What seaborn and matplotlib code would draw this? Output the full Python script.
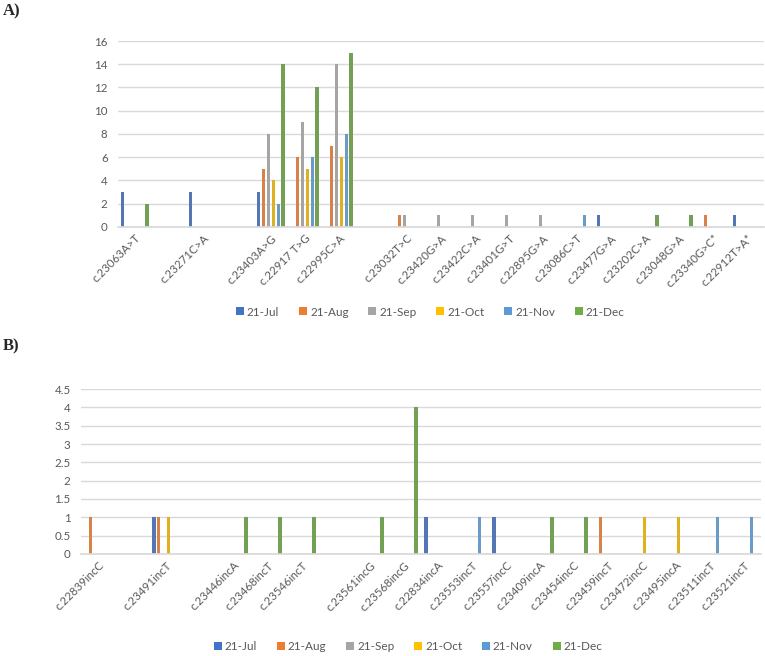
import numpy as np
import pandas as pd
import seaborn as sns
import matplotlib.pyplot as plt
from matplotlib.lines import Line2D

# months and Excel-style colours
months = ["21-Jul", "21-Aug", "21-Sep", "21-Oct", "21-Nov", "21-Dec"]
colors = ["#4472C4", "#ED7D31", "#A5A5A5", "#FFC000", "#5B9BD5", "#70AD47"]

# Panel A: substitutions
a_labels = ["c.23063A>T", "c.23271C>A", "c.23403A>G", "c.22917 T>G", "c.22995C>A",
            "c.23032T>C", "c.23420G>A", "c.23422C>A", "c.23401G>T", "c.22895G>A",
            "c.23086C>T", "c.23477G>A", "c.23202C>A", "c.23048G>A", "c.23340G>C*",
            "c.22912T>A*"]
a_jul = [3, 3, 3, 0, 0, 0, 0, 0, 0, 0, 0, 1, 0, 0, 0, 1]
a_aug = [0, 0, 5, 6, 7, 1, 0, 0, 0, 0, 0, 0, 0, 0, 1, 0]
a_sep = [0, 0, 8, 9, 14, 1, 1, 1, 1, 1, 0, 0, 0, 0, 0, 0]
a_oct = [0, 0, 4, 5, 6, 0, 0, 0, 0, 0, 0, 0, 0, 0, 0, 0]
a_nov = [0, 0, 2, 6, 8, 0, 0, 0, 0, 0, 1, 0, 0, 0, 0, 0]
a_dec = [2, 0, 14, 12, 15, 0, 0, 0, 0, 0, 0, 0, 1, 1, 0, 0]
a_blank_after = ["c.23063A>T", "c.23271C>A", "c.22995C>A"]

# Panel B: insertions
b_labels = ["c.22839incC", "c.23491incT", "c.23446incA", "c.23468incT", "c.23546incT",
            "c.23561incG", "c.23568incG", "c.22834incA", "c.23553incT", "c.23557incC",
            "c.23409incA", "c.23454incC", "c.23459incT", "c.23472incC", "c.23495incA",
            "c.23511incT", "c.23521incT"]
b_jul = [0, 1, 0, 0, 0, 0, 0, 1, 0, 1, 0, 0, 0, 0, 0, 0, 0]
b_aug = [1, 1, 0, 0, 0, 0, 0, 0, 0, 0, 0, 0, 1, 0, 0, 0, 0]
b_sep = [0, 0, 0, 0, 0, 0, 0, 0, 0, 0, 0, 0, 0, 0, 0, 0, 0]
b_oct = [0, 1, 0, 0, 0, 0, 0, 0, 0, 0, 0, 0, 0, 1, 1, 0, 0]
b_nov = [0, 0, 0, 0, 0, 0, 0, 0, 1, 0, 0, 0, 0, 0, 0, 1, 1]
b_dec = [0, 0, 1, 1, 1, 1, 4, 0, 0, 0, 1, 1, 0, 0, 0, 0, 0]
b_blank_after = ["c.22839incC", "c.23491incT", "c.23546incT"]


def long_table(labels, series):
    df = pd.DataFrame(dict(zip(months, series)), index=labels)
    df = df.reset_index().melt(id_vars="index", var_name="month", value_name="count")
    df = df.rename(columns={"index": "mutation"})
    return df[df["count"] > 0]


def with_blanks(labels, blank_after):
    order, n = [], 0
    for lab in labels:
        order.append(lab)
        if lab in blank_after:
            n += 1
            order.append(" " * n)
    return order


sns.set_theme(style="white")
plt.rcParams["font.family"] = ["Lato", "DejaVu Sans"]
txt = "#595959"
grid = "#D9D9D9"

fig = plt.figure(figsize=(7.65, 6.56), dpi=100)
ax_a = fig.add_axes([0.1542, 0.6540, 0.8444, 0.2835])
ax_b = fig.add_axes([0.1059, 0.1555, 0.8889, 0.2515])

panels = [
    (ax_a, long_table(a_labels, [a_jul, a_aug, a_sep, a_oct, a_nov, a_dec]),
     with_blanks(a_labels, a_blank_after), 16, np.arange(0, 17, 2)),
    (ax_b, long_table(b_labels, [b_jul, b_aug, b_sep, b_oct, b_nov, b_dec]),
     with_blanks(b_labels, b_blank_after), 4.5, np.arange(0, 4.6, 0.5)),
]

for ax, df, order, ymax, yticks in panels:
    sns.barplot(data=df, x="mutation", y="count", hue="month", order=order,
                hue_order=months, palette=colors, width=0.85, gap=0.35,
                errorbar=None, linewidth=0, legend=False, ax=ax)
    ax.set_xlim(-0.5, len(order) - 0.5)
    ax.set_ylim(0, ymax)
    ax.set_yticks(yticks)
    ax.set_yticklabels([f"{v:g}" for v in yticks])
    ax.yaxis.grid(True, color=grid, linewidth=1)
    ax.set_axisbelow(True)
    for s in ["top", "right", "left"]:
        ax.spines[s].set_visible(False)
    ax.spines["bottom"].set_color(grid)
    ax.set_xlabel("")
    ax.set_ylabel("")
    ax.tick_params(axis="both", length=0, colors=txt, labelsize=8.3)
    ax.tick_params(axis="y", pad=7.5)
    ax.tick_params(axis="x", pad=4)
    for lab in ax.get_xticklabels():
        lab.set_rotation(45)
        lab.set_ha("right")
        lab.set_va("top")
        lab.set_rotation_mode("anchor")

handles = [Line2D([], [], marker="s", linestyle="", markersize=6,
                  markerfacecolor=c, markeredgewidth=0) for c in colors]
for y in [1 - 312 / 656, 1 - 647 / 656]:
    x = 0.562 if y > 0.5 else 0.533
    fig.legend(handles, months, loc="center", bbox_to_anchor=(x, y), ncol=6,
               frameon=False, fontsize=8.5, labelcolor=txt, handletextpad=0.2,
               columnspacing=1.6, handlelength=0.8)

fig.text(0.004, 1 - 11 / 656, "A)", fontsize=12, fontweight="bold",
         family="Liberation Serif", va="center", ha="left")
fig.text(0.004, 1 - 346 / 656, "B)", fontsize=12, fontweight="bold",
         family="Liberation Serif", va="center", ha="left")

fig.savefig("out.png", dpi=100)
